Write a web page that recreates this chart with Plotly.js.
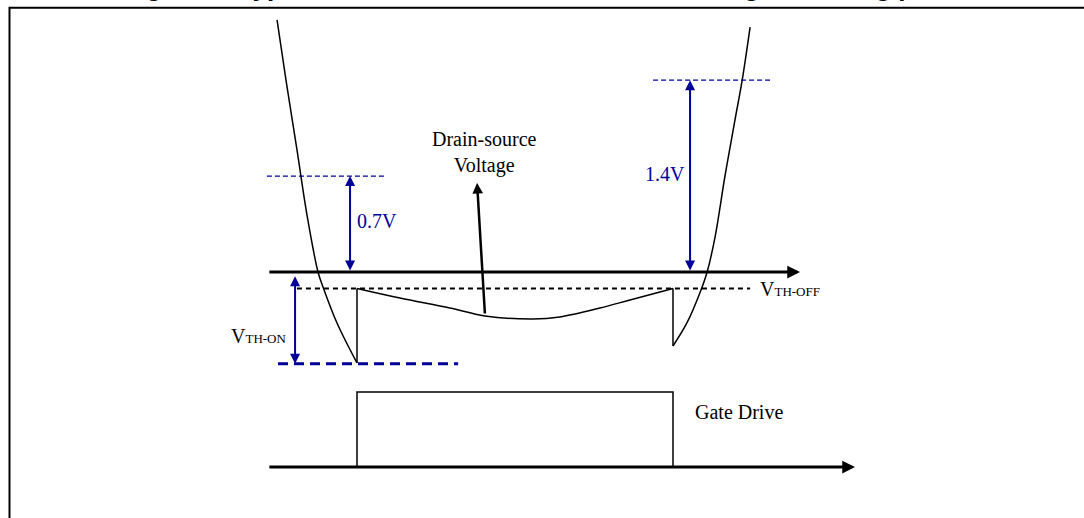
<!DOCTYPE html>
<html>
<head>
<meta charset="utf-8">
<script src="https://cdn.plot.ly/plotly-3.0.1.min.js"></script>
<style>html,body{margin:0;padding:0;background:#fff;}</style>
</head>
<body>
<div id="chart" style="width:1084px;height:518px;"></div>
<script>
// ---- data (time t: gate ON from 0 to 1; drain-source voltage V in volts) ----
const titleText = "Figure 6. Typical waveforms of SR MOSFET in the gate driving process";

// body-diode turn-on branch (falling drain-source voltage)
const tTurnOn = [-0.253, -0.2247, -0.1899, -0.1582, -0.1234, -0.1076, -0.0633, 0];
const vTurnOn = [1.84, 1.401, 0.891, 0.416, 0, -0.109, -0.372, -0.664];

// conduction interval (gate driven)
const tConduction = [0, 0.136, 0.294, 0.405, 0.557, 0.642, 0.769, 0.864, 1.0];
const vConduction = [-0.12, -0.19, -0.263, -0.321, -0.343, -0.328, -0.263, -0.204, -0.12];

// turn-off branch (rising drain-source voltage)
const tTurnOff = [1.0, 1.044, 1.085, 1.108, 1.133, 1.165, 1.196, 1.218, 1.244];
const vTurnOff = [-0.54, -0.372, -0.153, 0, 0.255, 0.708, 1.109, 1.387, 1.788];

// thresholds and offsets
const vthOff = -0.12;
const vthOn = -0.67;
const offsetLevels = [0.7, 1.4];
const offsetLabels = ["0.7V", "1.4V"];

// gate drive pulse
const gateT = [0, 0, 1, 1];
const gateLevel = [0, 1, 1, 0];

// ---- drawing ----
const BLUE = "#000099";
const SERIF = "Liberation Serif, Times New Roman, serif";
const FS = 20;
const last = a => a[a.length - 1];

const traces = [
  {x: tTurnOn, y: vTurnOn, mode: "lines", line: {color: "#000", width: 1.5, shape: "spline"}, hoverinfo: "skip"},
  {x: tConduction, y: vConduction, mode: "lines", line: {color: "#000", width: 1.5, shape: "spline"}, hoverinfo: "skip"},
  {x: tTurnOff, y: vTurnOff, mode: "lines", line: {color: "#000", width: 1.5, shape: "spline"}, hoverinfo: "skip"},
  {x: [last(tTurnOn), tConduction[0], null, last(tConduction), tTurnOff[0]],
   y: [last(vTurnOn), vConduction[0], null, last(vConduction), vTurnOff[0]],
   mode: "lines", line: {color: "#000", width: 1.5}, hoverinfo: "skip"},
  // VTH-OFF dashed
  {x: [-0.19, 1.244], y: [vthOff, vthOff], mode: "lines", line: {color: "#000", width: 2, dash: "5px,4px"}, hoverinfo: "skip"},
  // VTH-ON dashed (blue)
  {x: [-0.25, 0.32], y: [vthOn, vthOn], mode: "lines", line: {color: BLUE, width: 3, dash: "10px,6px"}, hoverinfo: "skip"},
  // offset level dashed lines
  {x: [-0.285, 0.095], y: [offsetLevels[0], offsetLevels[0]], mode: "lines", line: {color: BLUE, width: 1.2, dash: "5px,3px"}, hoverinfo: "skip"},
  {x: [0.937, 1.316], y: [offsetLevels[1], offsetLevels[1]], mode: "lines", line: {color: BLUE, width: 1.2, dash: "5px,3px"}, hoverinfo: "skip"},
  // gate drive
  {x: gateT, y: gateLevel, yaxis: "y2", mode: "lines", line: {color: "#000", width: 1.5}, hoverinfo: "skip"}
];

function arrow(x, y, ax, ay, opts) {
  return Object.assign({x: x, y: y, ax: ax, ay: ay, xref: "x", yref: "y", axref: "x", ayref: "y",
    text: "", showarrow: true, arrowhead: 2, arrowsize: 1, arrowwidth: 2, arrowcolor: "#000",
    standoff: 0, startstandoff: 0}, opts || {});
}
function label(text, x, y, xanchor, opts) {
  return Object.assign({text: text, x: x, y: y, xref: "x", yref: "y", xanchor: xanchor, yanchor: "middle",
    showarrow: false, font: {family: SERIF, size: FS, color: "#000"}}, opts || {});
}

const annotations = [
  // figure caption, cropped at the top edge as in the source image
  {text: "<b>" + titleText + "</b>", xref: "paper", yref: "paper", x: 0.112, y: 1, xanchor: "left", yanchor: "bottom",
   yshift: -4, showarrow: false, font: {family: "Liberation Sans, Arial, sans-serif", size: 26, color: "#000"}},
  // drain-source time axis
  arrow(1.402, 0, -0.282, 0, {arrowwidth: 3, arrowsize: 0.85}),
  // gate drive time axis
  arrow(1.576, 0, -0.282, 0, {yref: "y2", ayref: "y2", arrowwidth: 3, arrowsize: 0.85}),
  // offset double arrows
  arrow(-0.022, offsetLevels[0], -0.022, 0, {arrowcolor: BLUE, arrowside: "end+start", startarrowhead: 2, startarrowsize: 1}),
  arrow(1.054, offsetLevels[1], 1.054, 0, {arrowcolor: BLUE, arrowside: "end+start", startarrowhead: 2, startarrowsize: 1}),
  // VTH-ON double arrow
  arrow(-0.196, vthOn, -0.196, -0.02, {arrowcolor: BLUE, arrowside: "end+start", startarrowhead: 2, startarrowsize: 1}),
  // pointer to the drain-source voltage
  arrow(0.38, 0.65, 0.405, vConduction[3] + 0.007, {arrowwidth: 2.5, arrowsize: 0.85}),
  // labels
  label("Drain-source<br>Voltage", 0.405, 0.869, "center"),
  label(offsetLabels[0], -0.006, 0.369, "left", {font: {family: SERIF, size: FS, color: BLUE}}),
  label(offsetLabels[1], 1.044, 0.715, "right", {font: {family: SERIF, size: FS, color: BLUE}}),
  label("V<span style='font-size:13px'>TH-ON</span>", -0.215, -0.467, "right"),
  label("V<span style='font-size:13px'>TH-OFF</span>", 1.269, -0.124, "left"),
  label("Gate Drive", 1.063, 0.727, "left", {yref: "y2"})
];

const layout = {
  width: 1084, height: 518,
  margin: {l: 0, r: 0, t: 0, b: 0, pad: 0},
  paper_bgcolor: "#fff", plot_bgcolor: "#fff",
  showlegend: false,
  xaxis: {range: [-357 / 316, 727 / 316], visible: false, fixedrange: true},
  yaxis: {range: [-246 / 137, 272 / 137], visible: false, fixedrange: true},
  yaxis2: {range: [-51 / 75, 467 / 75], visible: false, overlaying: "y", fixedrange: true},
  shapes: [
    {type: "rect", xref: "paper", yref: "paper", x0: 9.5 / 1084, x1: 1.05, y0: -0.05, y1: 1 - 7.8 / 518,
     line: {color: "#000", width: 2}, fillcolor: "rgba(0,0,0,0)"}
  ],
  annotations: annotations
};

Plotly.newPlot("chart", traces, layout, {staticPlot: true, displayModeBar: false});
</script>
</body>
</html>
